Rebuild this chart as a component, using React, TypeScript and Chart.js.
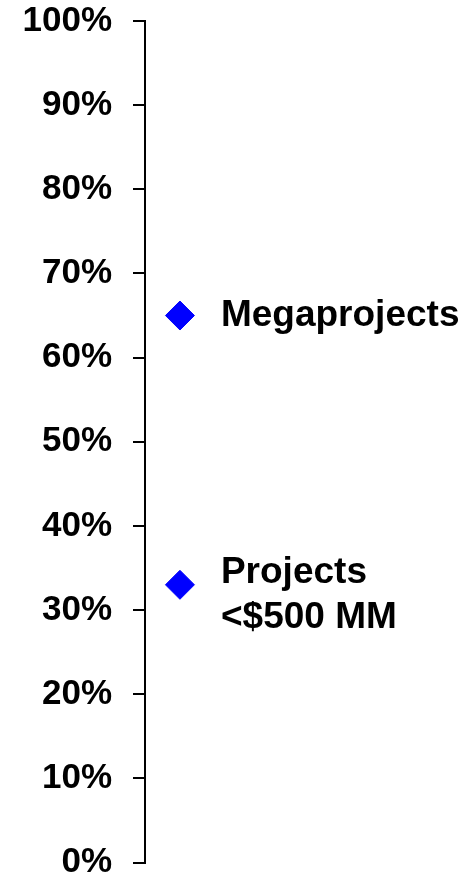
import React, { useEffect, useRef } from "react";
import { Chart, registerables } from "chart.js";

Chart.register(...registerables);

// ---- data ----
const seriesLabels: string[][] = [["Megaprojects"], ["Projects", "<$500 MM"]];
const seriesValues: number[] = [65, 33];
const seriesX: number[] = [1, 1];
const yMin = 0;
const yMax = 100;
const yStep = 10;

const FONT = '"Liberation Sans", Arial, Helvetica, sans-serif';

const labelPlugin = {
  id: "pointLabels",
  afterDatasetsDraw(chart: any) {
    const ctx = chart.ctx;
    const meta = chart.getDatasetMeta(0);
    ctx.save();
    ctx.fillStyle = "#000000";
    ctx.font = `bold 37px ${FONT}`;
    ctx.textAlign = "left";
    ctx.textBaseline = "alphabetic";
    const lineHeight = 45;
    meta.data.forEach((pt: any, i: number) => {
      const lines = seriesLabels[i];
      const first = pt.y + 10 - (lines.length - 1) * 12;
      lines.forEach((ln, j) => {
        ctx.fillText(ln, pt.x + 41, first + j * lineHeight);
      });
    });
    ctx.restore();
  },
};

export default function App() {
  const canvasRef = useRef<HTMLCanvasElement | null>(null);

  useEffect(() => {
    if (!canvasRef.current) return;
    const chart = new Chart(canvasRef.current, {
      type: "scatter",
      data: {
        datasets: [
          {
            data: seriesValues.map((v, i) => ({ x: seriesX[i], y: v })),
            pointStyle: "rectRot",
            pointRadius: 14.5,
            pointHoverRadius: 14.5,
            backgroundColor: "#0000ff",
            borderColor: "#0000ff",
            borderWidth: 1,
          },
        ],
      },
      options: {
        animation: false,
        responsive: true,
        maintainAspectRatio: false,
        layout: { padding: { top: 21, bottom: 15, left: 0, right: 0 } },
        plugins: {
          legend: { display: false },
          tooltip: { enabled: false },
        },
        scales: {
          x: {
            type: "linear",
            display: false,
            min: 0,
            max: 9,
          },
          y: {
            type: "linear",
            min: yMin,
            max: yMax,
            afterFit: (s: any) => {
              s.width = 145;
              s.paddingTop = 0;
              s.paddingBottom = 0;
            },
            ticks: {
              stepSize: yStep,
              padding: 21,
              color: "#000000",
              font: { family: FONT, size: 35, weight: "bold" },
              callback: (v: any) => `${v}%`,
            },
            grid: {
              drawOnChartArea: false,
              drawTicks: true,
              tickLength: 12,
              color: "#000000",
              lineWidth: 2,
            },
            border: { display: true, color: "#000000", width: 2 },
          },
        },
      },
      plugins: [labelPlugin],
    });
    return () => chart.destroy();
  }, []);

  return (
    <div style={{ position: "absolute", left: 0, top: 0, width: 475, height: 878, background: "#ffffff" }}>
      <canvas ref={canvasRef} />
    </div>
  );
}
